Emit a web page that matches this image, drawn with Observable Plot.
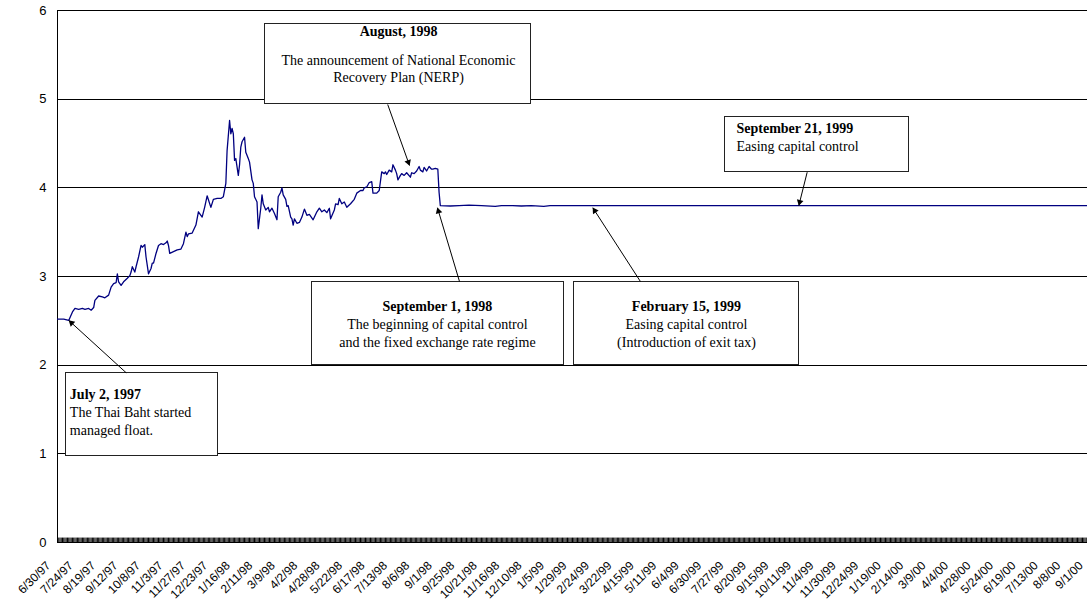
<!DOCTYPE html>
<html><head><meta charset="utf-8">
<script src="https://cdn.jsdelivr.net/npm/d3@7"></script>
<script src="https://cdn.jsdelivr.net/npm/@observablehq/plot@0.6"></script>
<style>html,body{margin:0;padding:0;background:#fff;overflow:hidden}</style>
</head><body><div id="chart"></div>
<script>
// ---- category axis (business-day observations) ----
const tickLabels = ["6/30/97","7/24/97","8/19/97","9/12/97","10/8/97","11/3/97","11/27/97","12/23/97","1/16/98","2/11/98","3/9/98","4/2/98","4/28/98","5/22/98","6/17/98","7/13/98","8/6/98","9/1/98","9/25/98","10/21/98","11/16/98","12/10/98","1/5/99","1/29/99","2/24/99","3/22/99","4/15/99","5/11/99","6/4/99","6/30/99","7/27/99","8/20/99","9/15/99","10/11/99","11/4/99","11/30/99","12/24/99","1/19/00","2/14/00","3/9/00","4/4/00","4/28/00","5/24/00","6/19/00","7/13/00","8/8/00","9/1/00"];
const tickStep = 18;          // observations between labels
const lastObs = 830;          // last observation index
const yTicks = [0,1,2,3,4,5,6];

// ---- series: observation index and exchange rate ----
const obsDay = [0,5,9,12,14,17,20,22,25,27,29,30,33,36,38,41,43,45,47,48,49,51,53,56,58,59,60,62,63,65,67,68,70,71,73,75,76,77,79,81,83,85,87,88,89,90,93,96,99,101,103,104,105,108,111,113,116,118,120,123,125,128,131,133,135,136,138,139,140,141,142,143,145,146,147,148,150,151,153,154,156,157,158,160,161,163,164,165,167,169,170,172,174,176,177,179,180,181,183,184,185,187,188,189,190,192,194,196,198,200,202,205,208,210,212,214,216,218,219,222,223,225,226,228,230,232,235,238,240,243,245,246,248,250,252,253,256,258,260,262,263,264,266,268,269,271,272,273,275,276,278,280,283,284,286,288,290,291,293,294,296,298,300,301,303,305,306,307,315,322,330,340,351,356,365,372,380,390,395,407,830];
const rate = [2.52,2.52,2.505,2.60,2.64,2.63,2.64,2.63,2.64,2.62,2.65,2.73,2.78,2.77,2.76,2.79,2.88,2.92,2.93,3.03,2.94,2.90,2.94,2.98,3.01,3.05,3.11,3.05,3.11,3.22,3.35,3.33,3.36,3.22,3.03,3.09,3.15,3.15,3.26,3.35,3.37,3.36,3.38,3.40,3.35,3.26,3.28,3.30,3.31,3.37,3.50,3.45,3.48,3.49,3.58,3.73,3.67,3.78,3.91,3.78,3.87,3.88,3.88,3.90,4.05,4.42,4.76,4.61,4.67,4.61,4.31,4.33,4.14,4.26,4.46,4.52,4.57,4.40,4.33,4.29,4.09,4.05,3.90,3.84,3.54,3.77,3.92,3.82,3.75,3.78,3.73,3.77,3.71,3.64,3.90,3.95,4.00,3.92,3.87,3.79,3.80,3.67,3.65,3.58,3.65,3.60,3.61,3.67,3.76,3.69,3.70,3.64,3.73,3.77,3.73,3.75,3.72,3.77,3.65,3.75,3.82,3.81,3.88,3.82,3.84,3.78,3.82,3.87,3.94,3.97,3.97,4.00,4.01,4.06,4.07,3.94,3.94,3.97,4.18,4.16,4.18,4.15,4.20,4.18,4.26,4.20,4.16,4.09,4.14,4.16,4.14,4.17,4.12,4.17,4.16,4.19,4.24,4.20,4.18,4.23,4.19,4.24,4.21,4.21,4.22,4.21,3.95,3.80,3.795,3.80,3.805,3.80,3.79,3.80,3.80,3.795,3.80,3.79,3.80,3.80,3.80];

// ---- annotations ----
const noteTitles = ["August, 1998","September 21, 1999","July 2, 1997","September 1, 1998","February 15, 1999"];
const noteBodies = [
  ["The announcement of National Economic","Recovery Plan (NERP)"],
  ["Easing capital control"],
  ["The Thai Baht started","managed float."],
  ["The beginning of capital control","and the fixed exchange rate regime"],
  ["Easing capital control","(Introduction of exit tax)"]
];
// layout of annotation boxes/arrows in data units (x = observation index, y = rate)
const noteLayout = [
  {x1:166.8, x2:380.1, y1:4.94, y2:5.853, anchor:"middle", tx:273.5, ty:[5.763,5.441,5.239], a:[264.8,4.94,282.3,4.252]},
  {x1:535.1, x2:682.7, y1:4.176, y2:4.797, anchor:"start", tx:544.5, ty:[4.669,4.466], a:[601.2,4.176,594.5,3.80]},
  {x1:7.2, x2:128.5, y1:0.981, y2:1.914, anchor:"start", tx:9.9, ty:[1.669,1.466,1.263], a:[55.1,1.914,9.1,2.504]},
  {x1:203.7, x2:406.0, y1:2.004, y2:2.943, anchor:"middle", tx:304.7, ty:[2.662,2.464,2.261], a:[322.4,2.943,304.7,3.775]},
  {x1:414.0, x2:595.0, y1:2.004, y2:2.943, anchor:"middle", tx:504.4, ty:[2.662,2.464,2.261], a:[467.5,2.943,429.3,3.775]}
];

const W = 1087, H = 603, mT = 10, mB = 61, mL = 57, mR = 0;
const xDomain = [0, 826], yDomain = [0, 6];
const xs = Plot.scale({x:{domain:xDomain, range:[mL, W - mR]}});
const ys = Plot.scale({y:{domain:yDomain, range:[H - mB, mT]}});

const series = obsDay.map((d,i) => ({day:d, rate:rate[i]}));
const categoryTicks = d3.range(0, lastObs + 1);
const rows = [];
noteLayout.forEach((L,i) => {
  rows.push({x:L.tx, y:L.ty[0], text:noteTitles[i], bold:true, anchor:L.anchor});
  noteBodies[i].forEach((t,j) => rows.push({x:L.tx, y:L.ty[j+1], text:t, bold:false, anchor:L.anchor}));
});
// filled arrow heads: triangle symbol, rotated along the arrow, centred a little back from the tip
const heads = noteLayout.map(L => {
  const [a1, b1, a2, b2] = L.a;
  const px1 = xs.apply(a1), py1 = ys.apply(b1), px2 = xs.apply(a2), py2 = ys.apply(b2);
  const len = Math.hypot(px2 - px1, py2 - py1), ux = (px2 - px1) / len, uy = (py2 - py1) / len;
  const back = 3.6;
  return {x: xs.invert(px2 - ux * back), y: ys.invert(py2 - uy * back), angle: Math.atan2(ux, -uy) * 180 / Math.PI};
});
const serif = "'Liberation Serif','Times New Roman',serif";
const textMarks = [];
for (const bold of [true,false]) for (const anchor of ["middle","start"]) {
  textMarks.push(Plot.text(rows.filter(r => r.bold===bold && r.anchor===anchor), {
    x:"x", y:"y", text:"text", textAnchor:anchor, fontFamily:serif, fontSize:14,
    fontWeight: bold ? "bold" : "normal", fill:"#000"
  }));
}

const chart = Plot.plot({
  width: W, height: H,
  marginTop: mT, marginBottom: mB, marginLeft: mL, marginRight: mR,
  x: {domain:xDomain, axis:null},
  y: {domain:yDomain, axis:null},
  style: {fontFamily:"'Liberation Sans',Arial,sans-serif", fontSize:"12px", background:"#fff", color:"#000", overflow:"visible"},
  marks: [
    Plot.ruleY(yTicks, {stroke:"#000", strokeWidth:1, shapeRendering:"crispEdges"}),
    Plot.ruleX([0], {y1:0, y2:6, stroke:"#000", strokeWidth:1, shapeRendering:"crispEdges"}),
    Plot.ruleX(categoryTicks, {x:d=>d, y1:0, y2:0.05, stroke:"#000", strokeWidth:1}),
    Plot.axisY({ticks:yTicks, tickSize:0, tickPadding:11, fontSize:13, tickFormat:d=>String(d)}),
    Plot.text(tickLabels, {x:(d,i)=>i*tickStep, y:0, text:d=>d, rotate:-45, textAnchor:"end", dx:-9, dy:21, fontSize:12, fill:"#000"}),
    Plot.line(series, {x:"day", y:"rate", stroke:"#000080", strokeWidth:1.3, clip:true}),
    Plot.rect(noteLayout, {x1:"x1", x2:"x2", y1:"y1", y2:"y2", fill:"#fff", stroke:"#222", strokeWidth:1, shapeRendering:"crispEdges"}),
    ...textMarks,
    Plot.link(noteLayout, {x1:d=>d.a[0], y1:d=>d.a[1], x2:d=>d.a[2], y2:d=>d.a[3], stroke:"#000", strokeWidth:1}),
    Plot.dot(heads, {x:"x", y:"y", rotate:"angle", symbol:"triangle", r:2.5, fill:"#000", stroke:"none"})
  ]
});
document.getElementById("chart").appendChild(chart);
</script>
</body></html>
